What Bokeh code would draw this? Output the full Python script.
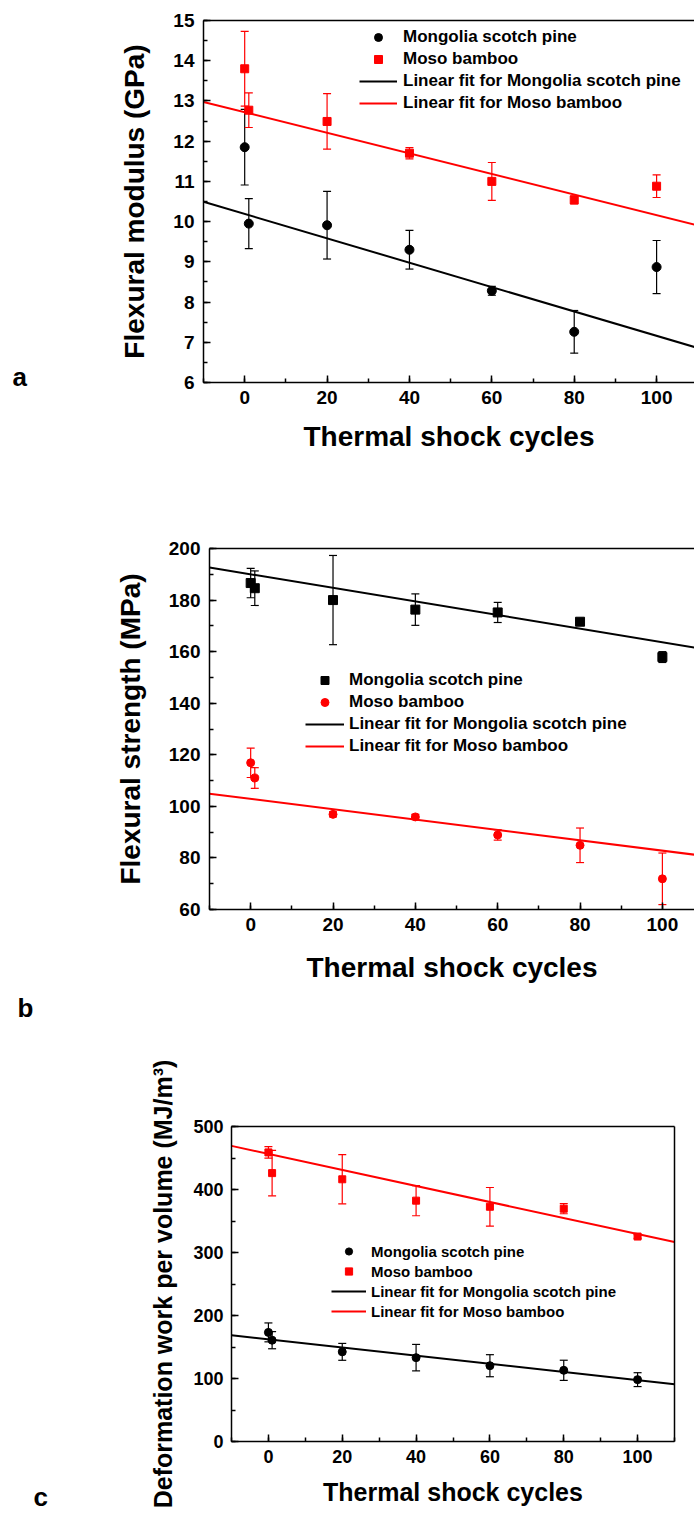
from bokeh.plotting import figure
from bokeh.models import (ColumnDataSource, Whisker, TeeHead, Legend, LegendItem,
                          LinearAxis, SingleIntervalTicker, FixedTicker, Range1d, Label)
from bokeh.layouts import column
from bokeh.embed import file_html
from bokeh.resources import INLINE

FONT = "Liberation Sans"

# ---------------- data ----------------
cycles = [0, 1, 20, 40, 60, 80, 100]
fit_x = [-10, 110]

# (a) flexural modulus, GPa
mod_pine = [11.85, 9.95, 9.91, 9.30, 8.28, 7.26, 8.87]
mod_pine_err = [0.94, 0.62, 0.84, 0.48, 0.11, 0.53, 0.66]
mod_bamboo = [13.80, 12.77, 12.49, 11.70, 11.00, 10.54, 10.88]
mod_bamboo_err = [0.93, 0.43, 0.69, 0.14, 0.47, 0.10, 0.28]
mod_fit_pine = (10.19, -0.0303)      # intercept, slope
mod_fit_bamboo = (12.72, -0.0256)

# (b) flexural strength, MPa
str_pine = [186.6, 184.6, 180.0, 176.3, 175.2, 171.6, 157.9]
str_pine_err = [5.7, 6.7, 17.3, 6.1, 3.9, 1.0, 2.1]
str_bamboo = [116.9, 111.0, 96.9, 95.9, 88.9, 84.9, 71.9]
str_bamboo_err = [5.7, 4.0, 1.0, 1.0, 2.0, 6.7, 10.0]
str_fit_pine = (190.0, -0.2633)
str_fit_bamboo = (102.9, -0.2008)

# (c) deformation work per volume, MJ/m3
work_pine = [173.2, 160.8, 142.3, 133.1, 120.3, 113.0, 98.2]
work_pine_err = [15.0, 13.6, 13.4, 21.0, 17.5, 16.0, 11.0]
work_bamboo = [458.9, 426.0, 416.2, 382.3, 372.6, 369.5, 325.3]
work_bamboo_err = [9.0, 36.0, 39.0, 24.0, 30.6, 8.0, 3.0]
work_fit_pine = (162.1, -0.6475)
work_fit_bamboo = (456.5, -1.2725)

PINE = "Mongolia scotch pine"
BAMBOO = "Moso bamboo"
FIT_PINE = "Linear fit for Mongolia scotch pine"
FIT_BAMBOO = "Linear fit for Moso bamboo"
X_TITLE = "Thermal shock cycles"

W = 694


def style_axis(ax, tick_size, title_size, label_standoff, title_standoff):
    ax.axis_line_width = 1.5
    ax.axis_line_color = "black"
    ax.major_tick_in = 7
    ax.major_tick_out = 0
    ax.minor_tick_in = 4
    ax.minor_tick_out = 0
    ax.major_tick_line_width = 1.5
    ax.minor_tick_line_width = 1.5
    ax.major_tick_line_color = "black"
    ax.minor_tick_line_color = "black"
    ax.major_label_text_font = FONT
    ax.major_label_text_font_style = "bold"
    ax.major_label_text_font_size = tick_size
    ax.major_label_text_color = "black"
    ax.major_label_standoff = label_standoff
    ax.axis_label_text_font = FONT
    ax.axis_label_text_font_style = "bold"
    ax.axis_label_text_font_size = title_size
    ax.axis_label_text_color = "black"
    ax.axis_label_standoff = title_standoff


def plain_axis(loc, bounds):
    return LinearAxis(fixed_location=loc, bounds=bounds, ticker=FixedTicker(ticks=[]),
                      axis_line_width=1.5, axis_line_color="black",
                      major_tick_line_color=None, minor_tick_line_color=None)


def add_series(p, ys, errs, color, marker, size):
    src = ColumnDataSource(dict(
        x=cycles, y=ys,
        upper=[v + e for v, e in zip(ys, errs)],
        lower=[v - e for v, e in zip(ys, errs)],
    ))
    w = Whisker(source=src, base="x", upper="upper", lower="lower",
                line_color=color, line_width=1.2,
                upper_head=TeeHead(size=8, line_color=color, line_width=1.2),
                lower_head=TeeHead(size=8, line_color=color, line_width=1.2))
    p.add_layout(w)
    return p.scatter("x", "y", source=src, marker=marker, size=size,
                     fill_color=color, line_color=color)


def add_fit(p, fit, color):
    b0, b1 = fit
    ys = [b0 + b1 * x for x in fit_x]
    return p.line(fit_x, ys, line_color=color, line_width=2)


def make_panel(H, box, xr, yr, ytick, ytitle, fonts, standoffs,
               pine, pine_err, bamboo, bamboo_err, fit_p, fit_b,
               pine_marker, bamboo_marker, msize, legend_cfg, letter, boxed):
    L, R, T, B = box                      # pixel box of the plot area in the canvas
    x0, x1 = xr
    y0, y1 = yr
    sx = (R - L) / (x1 - x0)
    sy = (B - T) / (y1 - y0)
    X = Range1d(x0 - L / sx, x0 + (W - L) / sx)
    Y = Range1d(y0 - (H - B) / sy, y1 + T / sy)

    def px(xp, yp):
        return x0 + (xp - L) / sx, y0 + (B - yp) / sy

    tick_size, title_size, legend_size = fonts
    p = figure(width=W, height=H, output_backend="svg", toolbar_location=None,
               title=None, x_range=X, y_range=Y, min_border=0,
               min_border_left=0, min_border_right=0, min_border_top=0,
               min_border_bottom=0)
    p.outline_line_color = None
    p.xgrid.visible = False
    p.ygrid.visible = False
    p.background_fill_color = "white"
    p.border_fill_color = "white"
    p.xaxis.ticker = SingleIntervalTicker(interval=20, num_minor_ticks=2)
    p.yaxis.ticker = SingleIntervalTicker(interval=ytick, num_minor_ticks=2)
    p.xaxis.fixed_location = y0
    p.xaxis.bounds = (x0, x1)
    p.yaxis.fixed_location = x0
    p.yaxis.bounds = (y0, y1)
    p.xaxis.axis_label = X_TITLE
    p.yaxis.axis_label = ytitle
    xs_lab, xs_tit, ys_lab, ys_tit = standoffs
    style_axis(p.xaxis[0], tick_size, title_size, xs_lab, xs_tit)
    style_axis(p.yaxis[0], tick_size, title_size, ys_lab, ys_tit)
    p.add_layout(plain_axis(y1, (x0, x1)), "above")
    if boxed:
        p.add_layout(plain_axis(x1, (y0, y1)), "right")

    r_fp = add_fit(p, fit_p, "black")
    r_fb = add_fit(p, fit_b, "red")
    r_p = add_series(p, pine, pine_err, "black", pine_marker, msize)
    r_b = add_series(p, bamboo, bamboo_err, "red", bamboo_marker, msize - 1)

    lx, lbottom, gw, gh, std = legend_cfg
    legend = Legend(items=[LegendItem(label=PINE, renderers=[r_p]),
                           LegendItem(label=BAMBOO, renderers=[r_b]),
                           LegendItem(label=FIT_PINE, renderers=[r_fp]),
                           LegendItem(label=FIT_BAMBOO, renderers=[r_fb])],
                    location=(lx, H - lbottom), label_text_font=FONT,
                    label_text_font_style="bold", label_text_font_size=legend_size,
                    label_text_color="black",
                    glyph_width=gw, glyph_height=gh, label_height=gh,
                    spacing=2, padding=0, margin=0, label_standoff=std,
                    border_line_color=None, background_fill_alpha=0)
    p.add_layout(legend)

    lt, lpx, lpy, lsize = letter
    lxv, lyv = px(lpx, lpy)
    p.add_layout(Label(x=lxv, y=lyv, text=lt, text_font=FONT, text_font_style="bold",
                       text_font_size=lsize, text_color="black",
                       text_align="left", text_baseline="alphabetic"))
    return p


pa = make_panel(480, (203, 694, 20, 382), (-10, 109.2), (6, 15), 1,
                "Flexural modulus (GPa)",
                ("19px", "28px", "17px"), (8, 14, 9, 20),
                mod_pine, mod_pine_err, mod_bamboo, mod_bamboo_err,
                mod_fit_pine, mod_fit_bamboo, "circle", "square", 9,
                (359, 113, 38, 20, 6), ("a", 12, 376, "26px"), False)

pb = make_panel(560, (209, 694, 68, 429), (-10, 107.8), (60, 200), 20,
                "Flexural strength (MPa)",
                ("19px", "28px", "17px"), (8, 18, 9, 20),
                str_pine, str_pine_err, str_bamboo, str_bamboo_err,
                str_fit_pine, str_fit_bamboo, "square", "circle", 9,
                (305, 276, 39, 20, 5), ("b", 17, 527, "26px"), False)

pc = make_panel(476, (231, 674, 86, 401), (-10, 110), (0, 500), 100,
                "Deformation work per volume (MJ/m³)",
                ("18px", "25px", "15px"), (8, 12, 8, 13),
                work_pine, work_pine_err, work_bamboo, work_bamboo_err,
                work_fit_pine, work_fit_bamboo, "circle", "square", 8,
                (331, 280, 35, 18, 5), ("c", 33, 456, "26px"), True)

layout = column(pa, pb, pc, spacing=0)
open("out.html", "w").write(file_html(layout, INLINE))
